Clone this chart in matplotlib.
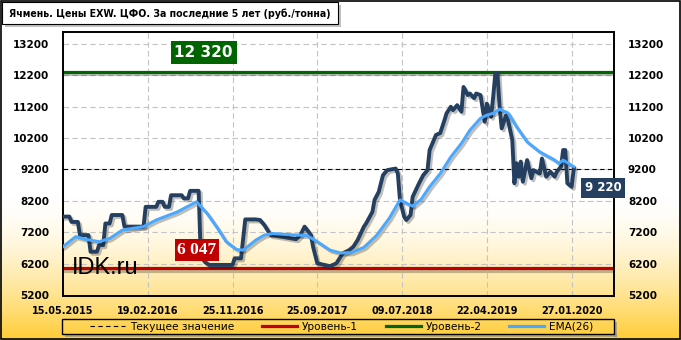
import matplotlib
matplotlib.use('Agg')
import matplotlib.pyplot as plt
import matplotlib.patheffects as pe
from matplotlib.patches import Rectangle
from matplotlib.lines import Line2D
import numpy as np

# weekly index -> price (руб./тонна), vertices
price_weeks = [0, 3, 4, 7, 8, 12, 13, 16, 17, 19, 20, 22, 23, 28, 29, 38, 39, 44, 45, 47,
               48, 50, 51, 56, 57, 59, 60, 64, 65, 67, 69, 80, 81, 84, 86, 91, 93, 95, 98, 103,
               110, 112, 114, 117, 118, 120, 126, 129, 132, 135, 137, 139, 142, 143, 146, 147, 149, 150, 151, 153,
               157, 158, 159, 161, 162, 164, 165, 168, 170, 172, 173, 175, 176, 178, 180, 181, 183, 184, 186, 188,
               189, 191, 192, 194, 195, 197, 199, 200, 202, 203, 204, 205, 206, 207, 209, 210, 212, 213, 214, 215,
               216, 217, 219, 221, 222, 225, 226, 228, 230, 232, 233, 235, 236, 237, 238, 240, 241]
price_values = [7700, 7700, 7530, 7530, 7110, 7110, 6580, 6580, 6790, 6790, 7480, 7480, 7750, 7750, 7380, 7380, 8010, 8010, 8170, 8170,
                8010, 8010, 8380, 8380, 8280, 8280, 8520, 8520, 6450, 6250, 6160, 6160, 6370, 6370, 7610, 7610, 7590, 7430, 7110, 7060,
                6980, 7110, 7380, 7110, 6740, 6210, 6120, 6210, 6530, 6630, 6740, 6950, 7380, 7480, 7850, 8230, 8490, 8760, 9020, 9180,
                9230, 9070, 8230, 7690, 7590, 7750, 8330, 8760, 9020, 9180, 9820, 10140, 10300, 10360, 10770, 10990, 11200, 11090, 11250, 11040,
                11830, 11570, 11620, 11470, 11620, 11570, 10720, 11300, 10880, 11520, 12260, 12260, 11200, 10510, 10920, 10770, 10140, 8760, 9400, 8970,
                9450, 8810, 9500, 8920, 9180, 9070, 9550, 8970, 9130, 8970, 9130, 9290, 9820, 9820, 8760, 8650, 9220]

ema_weeks = [0, 6, 11, 17, 22, 28, 38, 44, 54, 63, 68, 73, 77, 82, 85, 91, 95, 99, 110, 115,
             120, 126, 131, 136, 142, 148, 154, 159, 165, 169, 173, 178, 183, 188, 192, 197, 200, 203, 206, 210,
             214, 219, 225, 232, 234, 236, 241]
ema_values = [6740, 7060, 6970, 6900, 7000, 7270, 7380, 7590, 7850, 8170, 7800, 7320, 6900, 6650, 6630, 6950, 7110, 7160, 7110, 7100,
              6900, 6630, 6540, 6550, 6720, 7100, 7650, 8230, 8030, 8250, 8650, 9070, 9600, 10030, 10450, 10830, 10930, 10990, 11120, 11000,
              10560, 10080, 9760, 9500, 9390, 9500, 9290]

current_value = 9220
level_1 = 6047
level_2 = 12320

tick_weeks = [0, 40, 80, 120, 160, 200, 240]
tick_dates = ['15.05.2015', '19.02.2016', '25.11.2016', '25.09.2017', '09.07.2018', '22.04.2019', '27.01.2020']
y_ticks = [5200, 6200, 7200, 8200, 9200, 10200, 11200, 12200, 13200]

title = 'Ячмень. Цены EXW. ЦФО. За последние 5 лет (руб./тонна)'

W, H = 681, 340
fig = plt.figure(figsize=(W / 100, H / 100), dpi=100)

# background in pixel coordinates
bg = fig.add_axes([0, 0, 1, 1])
bg.set_xlim(0, W)
bg.set_ylim(H, 0)
bg.axis('off')
yy = np.arange(H)
t = np.clip((yy - 195) / 145, 0, 1) ** 1.6
gold = np.array([1.0, 0.80, 0.20])
rows = (1 - t)[:, None] * np.ones(3) + t[:, None] * gold
img = np.repeat(rows[:, None, :], W, axis=1)
bg.imshow(img, extent=(0, W, H, 0), aspect='auto', zorder=0)
bg.add_patch(Rectangle((0.5, 0.5), W - 1.5, H - 1.5, fill=False, ec='black', lw=1.2, zorder=5))

# title box
bg.add_patch(Rectangle((5, 5), 336, 22, fc='#9a9a9a', ec='none', alpha=0.6, zorder=2))
bg.add_patch(Rectangle((2, 2), 336, 22, fc='white', ec='black', lw=0.8, zorder=3))
bg.text(9, 13.5, title, fontsize=7.6, fontweight='bold', fontstretch='condensed',
        va='center', ha='left', zorder=4)

# legend box
bg.add_patch(Rectangle((614, 322), 3, 15, fc='#8a8a8a', ec='none', alpha=0.6, zorder=2))
bg.add_patch(Rectangle((65, 334), 552, 3, fc='#8a8a8a', ec='none', alpha=0.6, zorder=2))
bg.add_patch(Rectangle((62, 319), 552, 15, fill=False, ec='black', lw=1, zorder=3))

ax = fig.add_axes([63 / W, 1 - 296 / H, (614 - 63) / W, (296 - 32) / H])
ax.set_facecolor('none')
ax.set_xlim(0, 260)
ax.set_ylim(5170, 13580)

shadow = [pe.SimpleLineShadow(offset=(1.5, -1.5), shadow_color='black', alpha=0.25), pe.Normal()]

ax.axhline(level_1, color='#C00000', lw=2.3, zorder=2, path_effects=shadow)
ax.axhline(level_2, color='#006400', lw=2.3, zorder=2, path_effects=shadow)
ax.axhline(current_value, color='black', lw=0.8, linestyle=(0, (4, 3)), zorder=2.5)

ax.plot(price_weeks, price_values, color='#243F60', lw=2.8, zorder=4,
        solid_joinstyle='round', path_effects=shadow)
ax.plot(ema_weeks, ema_values, color='#4AA8FF', lw=2.2, zorder=5, path_effects=shadow)

ax.set_xticks(tick_weeks)
ax.set_xticklabels(tick_dates)
ax.set_yticks(y_ticks)
ax.grid(True, color='#C4C4C4', lw=0.8, linestyle=(0, (5, 3)))
ax.set_axisbelow(True)
ax.tick_params(axis='both', length=0)
ax.tick_params(axis='y', labelright=True, pad=10)
ax.tick_params(axis='x', pad=7)
for lab in ax.get_yticklabels():
    lab.set_fontweight('bold')
    lab.set_fontsize(7.5)
for lab in ax.get_xticklabels():
    lab.set_fontweight('bold')
    lab.set_fontsize(7)
for s in ax.spines.values():
    s.set_linewidth(1.4)

# value labels
ax.text(66.4, 12920, '12 320', color='white', fontsize=11, fontweight='bold',
        ha='center', va='center', zorder=7,
        bbox=dict(boxstyle='square,pad=0.25', fc='#006400', ec='none'))
ax.text(63.1, 6633, '6 047', color='white', fontsize=12.5, fontweight='bold',
        family='Liberation Serif', ha='center', va='center', zorder=7,
        bbox=dict(boxstyle='square,pad=0.15', fc='#C00000', ec='none'))
ax.text(254.9, 8624, '9 220', color='white', fontsize=8.5, fontweight='bold',
        ha='center', va='center', zorder=7,
        bbox=dict(boxstyle='square,pad=0.3', fc='#243F60', ec='none'))
ax.text(4, 6060, 'IDK.ru', color='black', fontsize=17, family='Liberation Sans',
        ha='left', va='center', zorder=8)

handles = [Line2D([], [], color='black', lw=0.8, linestyle=(0, (4, 3))),
           Line2D([], [], color='#C00000', lw=2.3),
           Line2D([], [], color='#006400', lw=2.3),
           Line2D([], [], color='#4AA8FF', lw=2.3)]
labels = ['Текущее значение', 'Уровень-1', 'Уровень-2', 'EMA(26)']
fig.legend(handles, labels, loc='center', bbox_to_anchor=(342 / W, 1 - 326.5 / H),
           ncol=4, frameon=False, fontsize=7.6, handlelength=3.3, handletextpad=0.5,
           columnspacing=2.6, borderpad=0)

fig.savefig('out.png', dpi=100)
